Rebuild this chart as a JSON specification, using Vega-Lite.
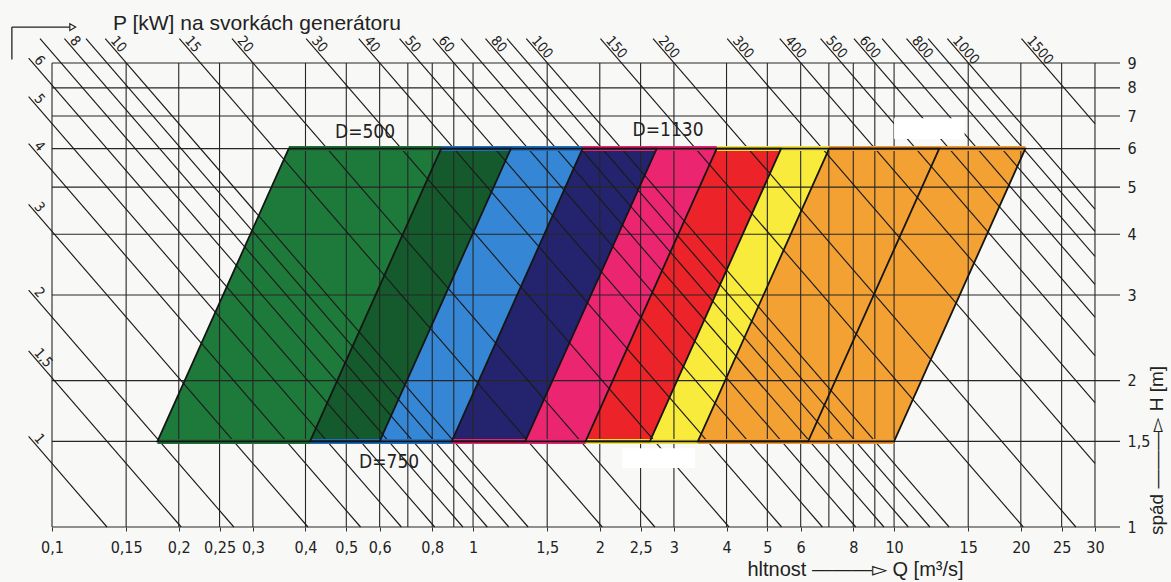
{
  "$schema": "https://vega.github.io/schema/vega-lite/v6.json",
  "width": 1068,
  "height": 464,
  "autosize": {"type": "none"},
  "padding": {"left": 52, "top": 63, "right": 51, "bottom": 55},
  "background": "#f8f8f7",
  "config": {"view": {"stroke": null}},
  "resolve": {"axis": {"x": "independent", "y": "independent"}},
  "title": {
    "text": "P [kW]    na svorkách generátoru",
    "anchor": "start",
    "frame": "group",
    "dx": 61,
    "dy": 15,
    "offset": 2,
    "fontSize": 21,
    "fontWeight": "normal",
    "font": "Liberation Sans, Arial, sans-serif",
    "color": "#222222"
  },
  "datasets": {
    "bands": [
      {"band": "g", "H": 1.5, "Ql": 0.178, "Qr": 0.41}, {"band": "g", "H": 6, "Ql": 0.365, "Qr": 0.84},
      {"band": "dg", "H": 1.5, "Ql": 0.41, "Qr": 0.6}, {"band": "dg", "H": 6, "Ql": 0.84, "Qr": 1.23},
      {"band": "b", "H": 1.5, "Ql": 0.6, "Qr": 0.89}, {"band": "b", "H": 6, "Ql": 1.23, "Qr": 1.82},
      {"band": "n", "H": 1.5, "Ql": 0.89, "Qr": 1.33}, {"band": "n", "H": 6, "Ql": 1.82, "Qr": 2.73},
      {"band": "p", "H": 1.5, "Ql": 1.33, "Qr": 1.85}, {"band": "p", "H": 6, "Ql": 2.73, "Qr": 3.79},
      {"band": "r", "H": 1.5, "Ql": 1.85, "Qr": 2.63}, {"band": "r", "H": 6, "Ql": 3.79, "Qr": 5.39},
      {"band": "y", "H": 1.5, "Ql": 2.63, "Qr": 3.42}, {"band": "y", "H": 6, "Ql": 5.39, "Qr": 7.01},
      {"band": "o", "H": 1.5, "Ql": 3.42, "Qr": 10}, {"band": "o", "H": 6, "Ql": 7.01, "Qr": 20.5}
    ],
    "turbines": [
      {"t": "D500", "H": 1.5, "Ql": 0.178, "Qr": 0.6}, {"t": "D500", "H": 6, "Ql": 0.365, "Qr": 1.23},
      {"t": "D750", "H": 1.5, "Ql": 0.41, "Qr": 1.33}, {"t": "D750", "H": 6, "Ql": 0.84, "Qr": 2.73},
      {"t": "D1130", "H": 1.5, "Ql": 0.89, "Qr": 2.63}, {"t": "D1130", "H": 6, "Ql": 1.82, "Qr": 5.39},
      {"t": "T4", "H": 1.5, "Ql": 1.85, "Qr": 6.25}, {"t": "T4", "H": 6, "Ql": 3.79, "Qr": 12.8},
      {"t": "T5", "H": 1.5, "Ql": 3.42, "Qr": 10}, {"t": "T5", "H": 6, "Ql": 7.01, "Qr": 20.5}
    ],
    "vgrid": [
      {"Q": 0.1}, {"Q": 0.15}, {"Q": 0.2}, {"Q": 0.25}, {"Q": 0.3}, {"Q": 0.4}, {"Q": 0.5}, {"Q": 0.6}, {"Q": 0.7}, {"Q": 0.8}, {"Q": 0.9},
      {"Q": 1}, {"Q": 1.5}, {"Q": 2}, {"Q": 2.5}, {"Q": 3}, {"Q": 4}, {"Q": 5}, {"Q": 6}, {"Q": 7}, {"Q": 8}, {"Q": 9},
      {"Q": 10}, {"Q": 15}, {"Q": 20}, {"Q": 25}, {"Q": 30}
    ],
    "hgrid": [
      {"H": 1}, {"H": 1.5}, {"H": 2}, {"H": 3}, {"H": 4}, {"H": 5}, {"H": 6}, {"H": 7}, {"H": 8}, {"H": 9}
    ],
    "plines": [
      {"P": 1, "pt": 0, "Q": 0.088, "H": 1.5357, "label": "1"}, {"P": 1, "pt": 1, "Q": 0.1351, "H": 1, "label": ""},
      {"P": 1.5, "pt": 0, "Q": 0.088, "H": 2.3035, "label": "1,5"}, {"P": 1.5, "pt": 1, "Q": 0.2027, "H": 1, "label": ""},
      {"P": 2, "pt": 0, "Q": 0.088, "H": 3.0713, "label": "2"}, {"P": 2, "pt": 1, "Q": 0.2703, "H": 1, "label": ""},
      {"P": 3, "pt": 0, "Q": 0.088, "H": 4.6069, "label": "3"}, {"P": 3, "pt": 1, "Q": 0.4054, "H": 1, "label": ""},
      {"P": 4, "pt": 0, "Q": 0.088, "H": 6.1425, "label": "4"}, {"P": 4, "pt": 1, "Q": 0.5405, "H": 1, "label": ""},
      {"P": 5, "pt": 0, "Q": 0.088, "H": 7.6782, "label": "5"}, {"P": 5, "pt": 1, "Q": 0.6757, "H": 1, "label": ""},
      {"P": 6, "pt": 0, "Q": 0.088, "H": 9.2138, "label": "6"}, {"P": 6, "pt": 1, "Q": 0.8108, "H": 1, "label": ""},
      {"P": 7, "pt": 0, "Q": 0.09366, "H": 10.1, "label": ""}, {"P": 7, "pt": 1, "Q": 0.946, "H": 1, "label": ""},
      {"P": 8, "pt": 0, "Q": 0.10704, "H": 10.1, "label": "8"}, {"P": 8, "pt": 1, "Q": 1.0811, "H": 1, "label": ""},
      {"P": 9, "pt": 0, "Q": 0.12042, "H": 10.1, "label": ""}, {"P": 9, "pt": 1, "Q": 1.2162, "H": 1, "label": ""},
      {"P": 10, "pt": 0, "Q": 0.1338, "H": 10.1, "label": "10"}, {"P": 10, "pt": 1, "Q": 1.3514, "H": 1, "label": ""},
      {"P": 15, "pt": 0, "Q": 0.2007, "H": 10.1, "label": "15"}, {"P": 15, "pt": 1, "Q": 2.027, "H": 1, "label": ""},
      {"P": 20, "pt": 0, "Q": 0.2676, "H": 10.1, "label": "20"}, {"P": 20, "pt": 1, "Q": 2.7027, "H": 1, "label": ""},
      {"P": 30, "pt": 0, "Q": 0.4014, "H": 10.1, "label": "30"}, {"P": 30, "pt": 1, "Q": 4.0541, "H": 1, "label": ""},
      {"P": 40, "pt": 0, "Q": 0.5352, "H": 10.1, "label": "40"}, {"P": 40, "pt": 1, "Q": 5.4054, "H": 1, "label": ""},
      {"P": 50, "pt": 0, "Q": 0.669, "H": 10.1, "label": "50"}, {"P": 50, "pt": 1, "Q": 6.7568, "H": 1, "label": ""},
      {"P": 60, "pt": 0, "Q": 0.8028, "H": 10.1, "label": "60"}, {"P": 60, "pt": 1, "Q": 8.1081, "H": 1, "label": ""},
      {"P": 70, "pt": 0, "Q": 0.9366, "H": 10.1, "label": ""}, {"P": 70, "pt": 1, "Q": 9.4595, "H": 1, "label": ""},
      {"P": 80, "pt": 0, "Q": 1.0704, "H": 10.1, "label": "80"}, {"P": 80, "pt": 1, "Q": 10.811, "H": 1, "label": ""},
      {"P": 90, "pt": 0, "Q": 1.2042, "H": 10.1, "label": ""}, {"P": 90, "pt": 1, "Q": 12.162, "H": 1, "label": ""},
      {"P": 100, "pt": 0, "Q": 1.338, "H": 10.1, "label": "100"}, {"P": 100, "pt": 1, "Q": 13.514, "H": 1, "label": ""},
      {"P": 150, "pt": 0, "Q": 2.0069, "H": 10.1, "label": "150"}, {"P": 150, "pt": 1, "Q": 20.27, "H": 1, "label": ""},
      {"P": 200, "pt": 0, "Q": 2.676, "H": 10.1, "label": "200"}, {"P": 200, "pt": 1, "Q": 27.027, "H": 1, "label": ""},
      {"P": 300, "pt": 0, "Q": 4.014, "H": 10.1, "label": "300"}, {"P": 300, "pt": 1, "Q": 30, "H": 1.3514, "label": ""},
      {"P": 400, "pt": 0, "Q": 5.3519, "H": 10.1, "label": "400"}, {"P": 400, "pt": 1, "Q": 30, "H": 1.8018, "label": ""},
      {"P": 500, "pt": 0, "Q": 6.6899, "H": 10.1, "label": "500"}, {"P": 500, "pt": 1, "Q": 30, "H": 2.2523, "label": ""},
      {"P": 600, "pt": 0, "Q": 8.0278, "H": 10.1, "label": "600"}, {"P": 600, "pt": 1, "Q": 30, "H": 2.7027, "label": ""},
      {"P": 700, "pt": 0, "Q": 9.3658, "H": 10.1, "label": ""}, {"P": 700, "pt": 1, "Q": 30, "H": 3.1532, "label": ""},
      {"P": 800, "pt": 0, "Q": 10.704, "H": 10.1, "label": "800"}, {"P": 800, "pt": 1, "Q": 30, "H": 3.6036, "label": ""},
      {"P": 900, "pt": 0, "Q": 12.042, "H": 10.1, "label": ""}, {"P": 900, "pt": 1, "Q": 30, "H": 4.054, "label": ""},
      {"P": 1000, "pt": 0, "Q": 13.38, "H": 10.1, "label": "1000"}, {"P": 1000, "pt": 1, "Q": 30, "H": 4.5045, "label": ""},
      {"P": 1500, "pt": 0, "Q": 20.069, "H": 10.1, "label": "1500"}, {"P": 1500, "pt": 1, "Q": 30, "H": 6.7568, "label": ""}
    ],
    "patches": [
      {"Q1": 10, "Q2": 14.7, "H1": 6.28, "H2": 6.93},
      {"Q1": 2.26, "Q2": 3.37, "H1": 1.323, "H2": 1.452}
    ],
    "dlabels": [
      {"label": "D=500", "Q": 0.554, "H": 6.5},
      {"label": "D=750", "Q": 0.632, "H": 1.36},
      {"label": "D=1130", "Q": 2.905, "H": 6.56}
    ]
  },
  "layer": [
    {
      "data": {"name": "bands"},
      "mark": {"type": "area", "orient": "horizontal", "strokeWidth": 0},
      "encoding": {
        "y": {
          "field": "H", "type": "quantitative",
          "scale": {"type": "log", "domain": [1, 9], "nice": false, "zero": false},
          "axis": {
            "orient": "right",
            "values": [1, 1.5, 2, 3, 4, 5, 6, 7, 8, 9],
            "labelExpr": "replace(toString(datum.value), '.', ',')",
            "grid": false, "domain": false, "ticks": false,
            "labelPadding": 7, "labelFontSize": 16,
            "labelFont": "DejaVu Sans Condensed, Liberation Sans Narrow, DejaVu Sans",
            "labelColor": "#222222", "labelOverlap": false, "labelBound": false, "labelFlush": false,
            "title": "spád  ———▻  H [m]",
            "titleAngle": 270, "titleX": 36, "titleY": 387,
            "titleAlign": "center", "titleBaseline": "middle",
            "titleFont": "Liberation Sans, Arial, sans-serif", "titleFontSize": 19,
            "titleFontWeight": "normal", "titleColor": "#222222"
          }
        },
        "x": {
          "field": "Ql", "type": "quantitative",
          "scale": {"type": "log", "domain": [0.1, 34.4], "nice": false, "zero": false},
          "axis": {
            "orient": "bottom",
            "values": [0.1, 0.15, 0.2, 0.25, 0.3, 0.4, 0.5, 0.6, 0.8, 1, 1.5, 2, 2.5, 3, 4, 5, 6, 8, 10, 15, 20, 25, 30],
            "labelExpr": "replace(toString(datum.value), '.', ',')",
            "grid": false, "domain": false, "ticks": true, "tickSize": 4, "tickColor": "#333333",
            "labelPadding": 8, "labelFontSize": 16,
            "labelFont": "DejaVu Sans Condensed, Liberation Sans Narrow, DejaVu Sans",
            "labelColor": "#222222", "labelOverlap": false, "labelBound": false, "labelFlush": false,
            "title": "hltnost  ———▻  Q [m³/s]",
            "titleX": 803, "titleY": 42,
            "titleAlign": "center", "titleBaseline": "middle",
            "titleFont": "Liberation Sans, Arial, sans-serif", "titleFontSize": 20,
            "titleFontWeight": "normal", "titleColor": "#222222"
          }
        },
        "x2": {"field": "Qr"},
        "fill": {
          "field": "band", "type": "nominal", "legend": null,
          "scale": {
            "domain": ["g", "dg", "b", "n", "p", "r", "y", "o"],
            "range": ["#1e7a3b", "#155a2d", "#3586d4", "#24246e", "#ec2570", "#ec2329", "#f8eb3c", "#f4a134"]
          }
        }
      }
    },
    {
      "data": {"name": "vgrid"},
      "mark": {"type": "rule", "color": "#262626", "strokeWidth": 1.1},
      "encoding": {
        "x": {"field": "Q", "type": "quantitative", "axis": null},
        "y": {"datum": 1, "axis": null},
        "y2": {"datum": 9}
      }
    },
    {
      "data": {"name": "hgrid"},
      "mark": {"type": "rule", "color": "#262626", "strokeWidth": 1.1},
      "encoding": {
        "y": {"field": "H", "type": "quantitative", "axis": null},
        "x": {"datum": 0.1, "axis": null},
        "x2": {"datum": 34.4}
      }
    },
    {
      "data": {"name": "plines"},
      "mark": {"type": "line", "color": "#1a1a1a", "strokeWidth": 1.15},
      "encoding": {
        "x": {"field": "Q", "type": "quantitative", "axis": null},
        "y": {"field": "H", "type": "quantitative", "axis": null},
        "detail": {"field": "P", "type": "nominal"},
        "order": {"field": "pt", "type": "quantitative"}
      }
    },
    {
      "data": {"name": "turbines"},
      "mark": {"type": "rule", "strokeWidth": 5},
      "encoding": {
        "y": {"field": "H", "type": "quantitative", "axis": null},
        "x": {"field": "Ql", "type": "quantitative", "axis": null},
        "x2": {"field": "Qr"},
        "stroke": {
          "field": "t", "type": "nominal", "legend": null,
          "scale": {
            "domain": ["D500", "D750", "D1130", "T4", "T5"],
            "range": ["#1f6e36", "#1f6fc0", "#e8246e", "#efe03a", "#f29a2e"]
          }
        }
      }
    },
    {
      "data": {"name": "turbines"},
      "mark": {"type": "area", "orient": "horizontal", "filled": false, "strokeWidth": 1.8, "color": "#151515"},
      "encoding": {
        "y": {"field": "H", "type": "quantitative", "axis": null},
        "x": {"field": "Ql", "type": "quantitative", "axis": null},
        "x2": {"field": "Qr"},
        "detail": {"field": "t", "type": "nominal"}
      }
    },
    {
      "data": {"name": "patches"},
      "mark": {"type": "rect", "color": "#ffffff"},
      "encoding": {
        "x": {"field": "Q1", "type": "quantitative", "axis": null},
        "x2": {"field": "Q2"},
        "y": {"field": "H1", "type": "quantitative", "axis": null},
        "y2": {"field": "H2"}
      }
    },
    {
      "data": {"name": "plines"},
      "transform": [{"filter": "datum.pt == 0 && datum.label != ''"}],
      "mark": {
        "type": "text", "angle": 49, "align": "left", "baseline": "middle",
        "dx": 5, "dy": -6, "fontSize": 14, "color": "#1e1e1e",
        "font": "DejaVu Sans Condensed, Liberation Sans Narrow, DejaVu Sans"
      },
      "encoding": {
        "x": {"field": "Q", "type": "quantitative", "axis": null},
        "y": {"field": "H", "type": "quantitative", "axis": null},
        "text": {"field": "label", "type": "nominal"}
      }
    },
    {
      "data": {"name": "dlabels"},
      "mark": {
        "type": "text", "align": "center", "baseline": "middle", "fontSize": 19, "color": "#222222",
        "font": "DejaVu Sans Condensed, Liberation Sans Narrow, DejaVu Sans"
      },
      "encoding": {
        "x": {"field": "Q", "type": "quantitative", "axis": null},
        "y": {"field": "H", "type": "quantitative", "axis": null},
        "text": {"field": "label", "type": "nominal"}
      }
    },
    {
      "data": {"values": [{}]},
      "mark": {"type": "rule", "color": "#222222", "strokeWidth": 1.3},
      "encoding": {
        "x": {"datum": 0.0803, "axis": null},
        "y": {"datum": 9.15, "axis": null},
        "y2": {"datum": 10.67}
      }
    },
    {
      "data": {"values": [{}]},
      "mark": {"type": "rule", "color": "#222222", "strokeWidth": 1.3},
      "encoding": {
        "y": {"datum": 10.67, "axis": null},
        "x": {"datum": 0.0803, "axis": null},
        "x2": {"datum": 0.111}
      }
    },
    {
      "data": {"values": [{}]},
      "mark": {"type": "point", "shape": "triangle-right", "filled": true, "fill": "#ffffff", "stroke": "#222222", "strokeWidth": 1.2, "size": 45, "opacity": 1},
      "encoding": {
        "x": {"datum": 0.112, "axis": null},
        "y": {"datum": 10.67, "axis": null}
      }
    }
  ]
}
